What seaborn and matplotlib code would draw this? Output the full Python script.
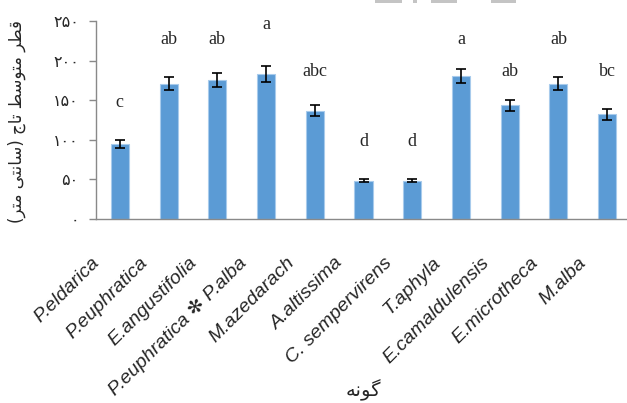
import matplotlib
matplotlib.use("Agg")
import matplotlib.pyplot as plt
from matplotlib.patches import Rectangle
import matplotlib.transforms as mtransforms
import seaborn as sns
import pandas as pd

species = ["P.eldarica", "P.euphratica", "E.angustifolia", "P.euphratica \u273b P.alba",
           "M.azedarach", "A.altissima", "C. sempervirens", "T.aphyla",
           "E.camaldulensis", "E.microtheca", "M.alba"]
crown_diameter = [95, 171, 175.5, 183.5, 136.5, 48.5, 48.5, 181, 143.5, 171, 132]
std_error = [5, 8, 9, 10, 7, 2.3, 2.3, 9, 7, 8.5, 7]
letters = ["c", "ab", "ab", "a", "abc", "d", "d", "a", "ab", "ab", "bc"]
letter_y = [142, 221, 221, 239.5, 181, 92.5, 92.5, 221, 180.5, 221, 180.5]
ytick_values = [0, 50, 100, 150, 200, 250]
ytick_labels = ["\u06f0", "\u06f5\u06f0", "\u06f1\u06f0\u06f0", "\u06f1\u06f5\u06f0",
                "\u06f2\u06f0\u06f0", "\u06f2\u06f5\u06f0"]
ylabel_text = "قطر متوسط تاج (سانتی متر)"
xlabel_text = "گونه"

FORMS = {
    'ا': ('\uFE8D', '\uFE8E', None, None),
    'ت': ('\uFE95', '\uFE96', '\uFE97', '\uFE98'),
    'ج': ('\uFE9D', '\uFE9E', '\uFE9F', '\uFEA0'),
    'ر': ('\uFEAD', '\uFEAE', None, None),
    'س': ('\uFEB1', '\uFEB2', '\uFEB3', '\uFEB4'),
    'ط': ('\uFEC1', '\uFEC2', '\uFEC3', '\uFEC4'),
    'ق': ('\uFED5', '\uFED6', '\uFED7', '\uFED8'),
    'م': ('\uFEE1', '\uFEE2', '\uFEE3', '\uFEE4'),
    'ن': ('\uFEE5', '\uFEE6', '\uFEE7', '\uFEE8'),
    'ه': ('\uFEE9', '\uFEEA', '\uFEEB', '\uFEEC'),
    'و': ('\uFEED', '\uFEEE', None, None),
    'ی': ('\uFBFC', '\uFBFD', '\uFBFE', '\uFBFF'),
    'گ': ('\uFB92', '\uFB93', '\uFB94', '\uFB95'),
}


def shape(s):
    out = []
    for i, ch in enumerate(s):
        if ch not in FORMS:
            out.append(ch)
            continue
        prev = s[i - 1] if i > 0 else ''
        nxt = s[i + 1] if i + 1 < len(s) else ''
        jp = prev in FORMS and FORMS[prev][2] is not None
        jn = nxt in FORMS and FORMS[ch][2] is not None
        iso, fin, ini, med = FORMS[ch]
        if jp and jn:
            out.append(med)
        elif jp:
            out.append(fin)
        elif jn:
            out.append(ini)
        else:
            out.append(iso)
    vis = ''.join(out)[::-1]
    return vis.translate(str.maketrans('()', ')('))


sns.set_theme(style="white")
plt.rcParams['font.family'] = ['Liberation Sans', 'DejaVu Sans']

df = pd.DataFrame({"species": species, "value": crown_diameter})

fig = plt.figure(figsize=(6.27, 4.03), dpi=100)
W, H = 627, 403
left, right, bottom, top = 95.5, 631.5, 219, 21
ax = fig.add_axes([left / W, (H - bottom) / H, (right - left) / W, (bottom - top) / H])

sns.barplot(data=df, x="species", y="value", color="#5B9BD5", saturation=1,
            width=0.37, edgecolor="#A8CBEC", linewidth=0.8, errorbar=None, ax=ax)
xs = list(range(len(species)))
ax.errorbar(xs, crown_diameter, yerr=std_error, fmt="none", ecolor="black",
            elinewidth=1.2, capsize=3.6, capthick=1.2, zorder=5)

for x, lab, y in zip(xs, letters, letter_y):
    ax.text(x, y, lab, ha="center", va="baseline", fontsize=13,
            family=["Liberation Serif", "DejaVu Serif"], clip_on=False)

ax.set_xlim(-0.5, len(species) - 0.5)
ax.set_ylim(0, 250)
ax.set_yticks(ytick_values)
ax.set_yticklabels(ytick_labels, family=["DejaVu Sans"], fontsize=11.5)

# category labels, rotated, anchored left of each category centre
ax.set_xticks(xs)
ax.set_xticklabels([""] * len(xs))
shift = mtransforms.ScaledTranslation(-29 / 100, -35 / 100, fig.dpi_scale_trans)
for x, lab in zip(xs, species):
    ax.text(x, 0, lab, transform=ax.get_xaxis_transform() + shift,
            rotation=45, ha="right", va="top", rotation_mode="anchor",
            fontsize=14, style="italic",
            family=["Liberation Sans", "DejaVu Sans"], clip_on=False)

ax.set_xticks([i - 0.5 for i in range(len(species) + 1)], minor=True)
ax.tick_params(axis="x", which="major", length=0)
ax.tick_params(axis="x", which="minor", length=5, width=1, color="#898989",
               direction="out")
ax.tick_params(axis="y", length=5, width=1, color="#898989", direction="out",
               pad=7, left=True)

for side in ["top", "right"]:
    ax.spines[side].set_visible(False)
for side in ["left", "bottom"]:
    ax.spines[side].set_color("#898989")
    ax.spines[side].set_linewidth(1)

ax.set_xlabel(shape(xlabel_text), family=["DejaVu Sans"], fontsize=14)
ax.xaxis.set_label_coords(0.5, -0.865)
ax.xaxis.label.set_va("center")
ax.set_ylabel(shape(ylabel_text), family=["DejaVu Sans"], fontsize=12)
ax.yaxis.label.set_va("center")
ax.yaxis.set_label_coords(-0.146, 0.49)

for x0, x1 in [(375, 402), (413, 417), (431, 457), (491, 516)]:
    fig.patches.append(Rectangle((x0 / W, 1 - 2.5 / H), (x1 - x0) / W, 2.5 / H,
                                 transform=fig.transFigure, color="#c4c4c4",
                                 linewidth=0))

fig.savefig("out.png", dpi=100)
